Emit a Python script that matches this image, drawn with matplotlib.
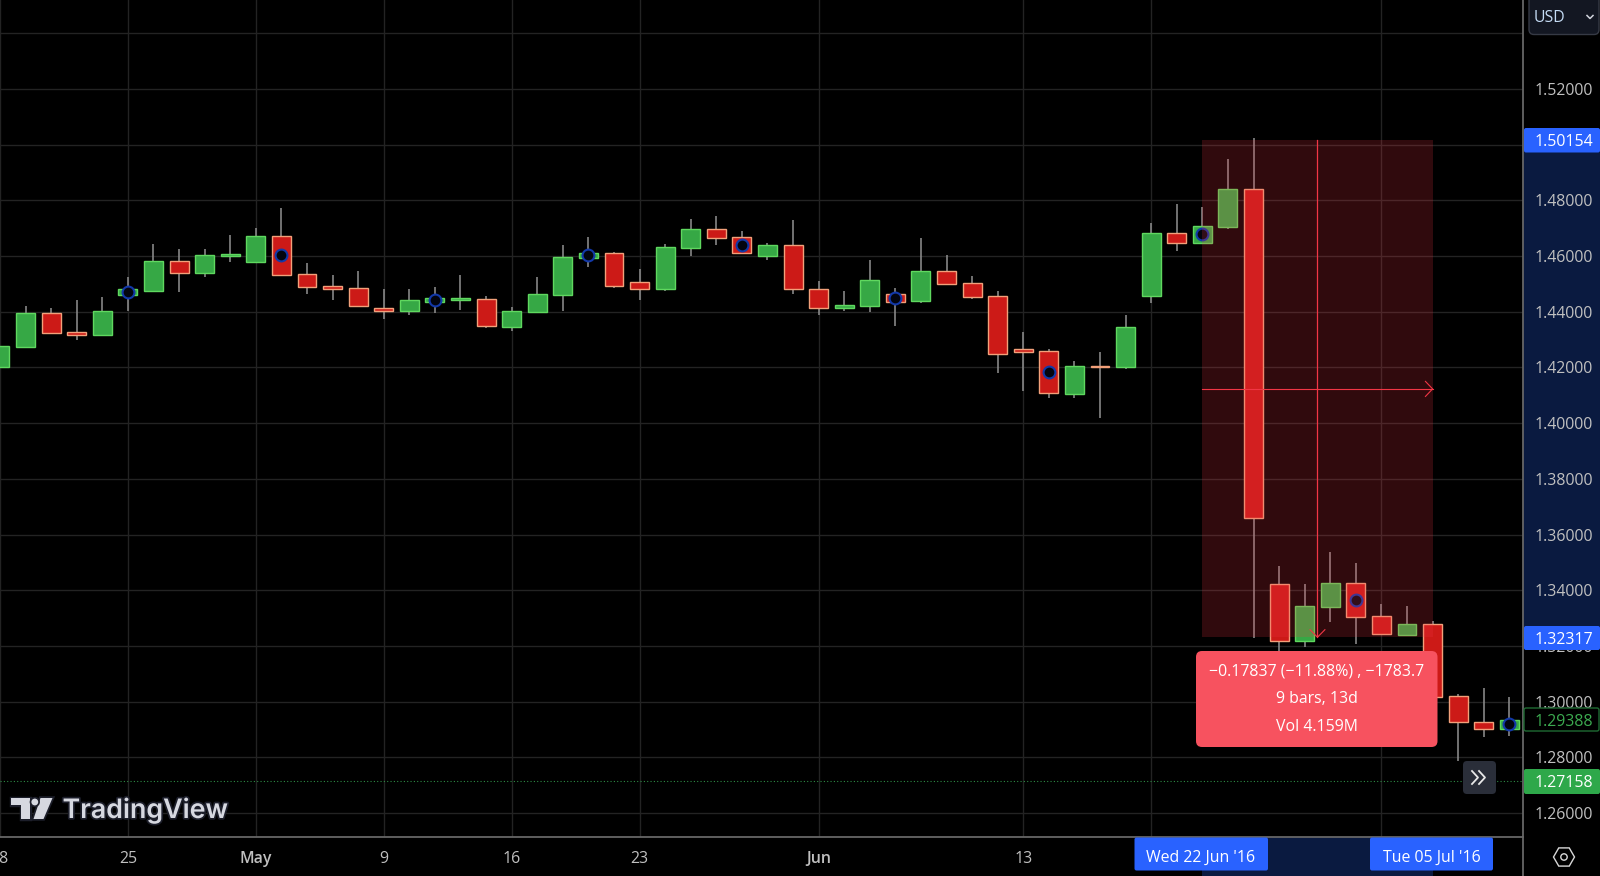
import math
import matplotlib
matplotlib.use("Agg")
import matplotlib.pyplot as plt
from matplotlib.patches import Rectangle, FancyBboxPatch, Polygon, Circle, RegularPolygon
import matplotlib.patheffects as pe

plt.rcParams['font.family'] = ['Open Sans', 'DejaVu Sans']

# candles, one per trading day. index 0 is Mon 25 Apr 2016
first_index = -5
opens = [1.4200, 1.4274, 1.4394, 1.4329, 1.4317, 1.4460, 1.4475, 1.4581, 1.4539, 1.4600,
         1.4577, 1.4673, 1.4534, 1.4492, 1.4486, 1.4414, 1.4404, 1.4436, 1.4443, 1.4447,
         1.4346, 1.4398, 1.4461, 1.4594, 1.4610, 1.4505, 1.4483, 1.4630, 1.4696, 1.4669,
         1.4600, 1.4641, 1.4483, 1.4413, 1.4422, 1.4462, 1.4437, 1.4545, 1.4502, 1.4455,
         1.4265, 1.4259, 1.4105, 1.4204, 1.4200, 1.4457, 1.4681, 1.4648, 1.4705, 1.4840,
         1.3424, 1.3218, 1.3339, 1.3428, 1.3309, 1.3241, 1.3278, 1.3019, 1.2927, 1.2904]
closes = [1.4277, 1.4394, 1.4325, 1.4317, 1.4401, 1.4480, 1.4581, 1.4539, 1.4604, 1.4607,
          1.4673, 1.4533, 1.4490, 1.4481, 1.4422, 1.4404, 1.4441, 1.4448, 1.4448, 1.4349,
          1.4401, 1.4462, 1.4598, 1.4610, 1.4493, 1.4483, 1.4634, 1.4696, 1.4666, 1.4612,
          1.4641, 1.4480, 1.4414, 1.4423, 1.4513, 1.4436, 1.4545, 1.4499, 1.4454, 1.4250,
          1.4256, 1.4107, 1.4205, 1.4200, 1.4347, 1.4681, 1.4648, 1.4709, 1.4840, 1.3658,
          1.3218, 1.3342, 1.3428, 1.3305, 1.3244, 1.3279, 1.3018, 1.2926, 1.2903, 1.2935]
highs = [1.4277, 1.4420, 1.4412, 1.4442, 1.4454, 1.4523, 1.4642, 1.4625, 1.4625, 1.4674,
         1.4701, 1.4772, 1.4575, 1.4532, 1.4546, 1.4481, 1.4481, 1.4489, 1.4532, 1.4455,
         1.4417, 1.4526, 1.4638, 1.4667, 1.4614, 1.4553, 1.4643, 1.4733, 1.4744, 1.4690,
         1.4646, 1.4729, 1.4510, 1.4474, 1.4586, 1.4484, 1.4663, 1.4602, 1.4529, 1.4473,
         1.4329, 1.4266, 1.4222, 1.4254, 1.4387, 1.4719, 1.4786, 1.4776, 1.4949, 1.5023,
         1.3487, 1.3422, 1.3537, 1.3497, 1.3350, 1.3343, 1.3290, 1.3028, 1.3048, 1.3016]
lows = [1.4200, 1.4274, 1.4325, 1.4298, 1.4314, 1.4404, 1.4475, 1.4472, 1.4525, 1.4577,
        1.4577, 1.4533, 1.4462, 1.4442, 1.4417, 1.4374, 1.4390, 1.4396, 1.4406, 1.4343,
        1.4331, 1.4398, 1.4404, 1.4560, 1.4486, 1.4442, 1.4475, 1.4600, 1.4640, 1.4607,
        1.4586, 1.4465, 1.4388, 1.4402, 1.4399, 1.4350, 1.4431, 1.4499, 1.4446, 1.4181,
        1.4116, 1.4092, 1.4091, 1.4017, 1.4195, 1.4432, 1.4617, 1.4646, 1.4696, 1.3228,
        1.3170, 1.3198, 1.3286, 1.3207, 1.3244, 1.3241, 1.3018, 1.2788, 1.2874, 1.2878]

# dividend style circle markers
marker_index = [0, 6, 12, 18, 24, 30, 36, 42, 48, 54]
marker_price = [1.4471, 1.4602, 1.4442, 1.4602, 1.4638, 1.4449, 1.4183, 1.4678, 1.3366, 1.2921]

tick_index = [-5, 0, 5, 10, 15, 20, 27, 35, 40, 49]
tick_labels = ['18', '25', 'May', '9', '16', '23', 'Jun', '13', '20', 'Jul']
price_ticks = [1.26, 1.28, 1.30, 1.32, 1.34, 1.36, 1.38, 1.40, 1.42, 1.44, 1.46, 1.48, 1.50, 1.52, 1.54]
# 1.54 sits under the currency button, only its grid line shows
price_labels = ['%.5f' % p for p in price_ticks[:-1]] + ['']

# the short measure tool
measure_start = 42
measure_end = 51
measure_top = 1.50154
measure_bottom = 1.32317
measure_mid = 1.4123
last_price = 1.29388
dotted_price = 1.27158
measure_lines = ['\u22120.17837 (\u221211.88%) , \u22121783.7', '9 bars, 13d', 'Vol 4.159M']

BG = '#000000'
GRID = '#232323'
AXIS = '#666666'
NAVY = '#0a1a40'
BLUE = '#2962ff'
GREEN_BODY = '#36a845'
GREEN_EDGE = '#5fd85f'
RED_BODY = '#cc1a17'
RED_EDGE = '#f2a07a'
WICK = '#8c8c8c'
LABEL = '#c0c0c0'
MEASURE = '#f23645'
FONT = 11.4

fig = plt.figure(figsize=(16, 8.76), dpi=100, facecolor=BG)
ax = fig.add_axes([0, 39 / 876, 1523 / 1600, 837 / 876], facecolor=BG)
ax.set_xlim(-125.3 / 25.63, (1523 - 125.3) / 25.63)
ax.set_ylim(1.25146, 1.5519)
ax.set_axisbelow(True)

ax.grid(True, color=GRID, linewidth=1.0)
ax.yaxis.tick_right()
ax.set_yticks(price_ticks)
ax.set_yticklabels(price_labels, color=LABEL, fontsize=FONT)
ax.set_xticks(tick_index)
ax.set_xticklabels(tick_labels, color=LABEL, fontsize=FONT)
for lab in ax.get_xticklabels():
    if lab.get_text() in ('May', 'Jun'):
        lab.set_fontweight('semibold')
ax.tick_params(axis='both', length=0)
ax.tick_params(axis='y', pad=8.5)
ax.tick_params(axis='x', pad=10)
for name in ('top', 'left'):
    ax.spines[name].set_visible(False)
for name in ('bottom', 'right'):
    ax.spines[name].set_color(AXIS)
    ax.spines[name].set_linewidth(1.3)

# highlighted stretches of both axes
trans_y = ax.get_yaxis_transform()
trans_x = ax.get_xaxis_transform()
ax.add_patch(Rectangle((1, measure_bottom), 0.06, measure_top - measure_bottom, transform=trans_y,
                       facecolor=NAVY, edgecolor='none', clip_on=False, zorder=0.2))
ax.add_patch(Rectangle((measure_start, -0.05), measure_end - measure_start, 0.05, transform=trans_x,
                       facecolor=NAVY, edgecolor='none', clip_on=False, zorder=0.2))

ax.axhline(dotted_price, color='#2e8b45', linewidth=0.8, linestyle=(0, (1, 2)), zorder=1.6)

for k in range(len(opens)):
    x = first_index + k
    o, c = opens[k], closes[k]
    up = c >= o
    ax.vlines(x, lows[k], highs[k], color=WICK, linewidth=1.15, zorder=2)
    ax.bar(x, abs(c - o), bottom=min(o, c), width=0.74,
           color=GREEN_BODY if up else RED_BODY,
           edgecolor=GREEN_EDGE if up else RED_EDGE,
           linewidth=1.0, zorder=3)

ax.plot(marker_index, marker_price, linestyle='none', marker='o', markersize=8.5,
        markerfacecolor='#03050f', markeredgecolor='#1238a8', markeredgewidth=1.5, zorder=4)

ax.add_patch(Rectangle((measure_start, measure_bottom), measure_end - measure_start,
                       measure_top - measure_bottom, facecolor=MEASURE, alpha=0.2,
                       edgecolor='none', zorder=5))
mid_x = (measure_start + measure_end) / 2
ax.plot([measure_start, measure_end], [measure_mid, measure_mid], color=MEASURE, linewidth=0.8, zorder=6)
ax.plot([mid_x, mid_x], [measure_top, measure_bottom], color=MEASURE, linewidth=0.9, zorder=6)
ax.plot([measure_end - 0.28, measure_end, measure_end - 0.28],
        [measure_mid + 0.0027, measure_mid, measure_mid - 0.0027], color=MEASURE, linewidth=0.8, zorder=6)
ax.plot([mid_x - 0.29, mid_x, mid_x + 0.29],
        [measure_bottom + 0.0027, measure_bottom, measure_bottom + 0.0027], color=MEASURE, linewidth=0.8, zorder=6)

# everything on top of the chart, in pixels of the picture
ui = fig.add_axes([0, 0, 1, 1])
ui.set_xlim(0, 1600)
ui.set_ylim(876, 0)
ui.axis('off')


def price_y(p):
    return 200.3 + (1.48 - p) * 2786


def box(x0, y0, x1, y1, face, edge='none', r=2, lw=1.0, z=3):
    ui.add_patch(FancyBboxPatch((x0, y0), x1 - x0, y1 - y0, boxstyle='round,pad=0,rounding_size=%g' % r,
                                facecolor=face, edgecolor=edge, linewidth=lw, zorder=z))


ui.plot([1523, 1523], [837, 876], color=AXIS, linewidth=1.3, zorder=2)

# price labels
box(1524, 128, 1600, 152.5, BLUE)
ui.text(1535, 141.5, '%.5f' % measure_top, color='white', fontsize=FONT, va='center', zorder=4)
box(1524, 626, 1600, 650, BLUE)
ui.text(1535, 639.5, '%.5f' % measure_bottom, color='white', fontsize=FONT, va='center', zorder=4)
box(1524, 708, 1599, 731, '#000000', edge='#1f6b33')
ui.text(1535, 721.5, '%.5f' % last_price, color='#3cab50', fontsize=FONT, va='center', zorder=4)
box(1524, 769, 1600, 794, '#2ea84a')
ui.text(1535, 783, '%.5f' % dotted_price, color='white', fontsize=FONT, va='center', zorder=4)

# date labels
box(1134.5, 837.5, 1268, 870.5, BLUE)
ui.text(1201, 857.5, "Wed 22 Jun '16", color='white', fontsize=FONT, ha='center', va='center', zorder=4)
box(1370, 837.5, 1493, 870.5, BLUE)
ui.text(1432, 857.5, "Tue 05 Jul '16", color='white', fontsize=FONT, ha='center', va='center', zorder=4)

# measure tooltip
box(1196, 651, 1437.5, 747, '#f7525f', r=6)
for y, line in zip([672, 699, 727], measure_lines):
    ui.text(1317, y, line, color='white', fontsize=FONT, ha='center', va='center', zorder=4)

# scroll button
box(1463, 761, 1496, 794, '#2a2e39', r=4)
ui.plot([1472, 1478, 1472], [771, 777.5, 784], color='#e8e8e8', linewidth=1.3, zorder=4)
ui.plot([1479, 1485, 1479], [771, 777.5, 784], color='#e8e8e8', linewidth=1.3, zorder=4)

# currency button
box(1529, -6, 1599, 34.5, '#131722', edge='#363a45', r=5)
ui.text(1534, 17.5, 'USD', color='#c5dcf5', fontsize=FONT, va='center', zorder=4)
ui.plot([1587, 1590, 1593], [15.5, 18.5, 15.5], color='#d1d4dc', linewidth=1.1, zorder=4)

# settings icon
ui.add_patch(RegularPolygon((1564, 857), 6, radius=10.5, orientation=math.pi / 6,
                            facecolor='none', edgecolor='#d8d8d8', linewidth=1.0, zorder=4))
ui.add_patch(Circle((1564, 857), 3.2, facecolor='none', edgecolor='#d8d8d8', linewidth=1.0, zorder=4))

# logo
LOGO = '#d6d8e0'
halo = [pe.withStroke(linewidth=2.5, foreground='#1c1e2a')]
for pts in ([(11, 798), (29.5, 798), (29.5, 819), (21, 819), (21, 805), (11, 805)],
            [(40.5, 798), (52.5, 798), (43.5, 819), (33.5, 819)]):
    ui.add_patch(Polygon(pts, closed=True, facecolor=LOGO, edgecolor='none', zorder=4, path_effects=halo))
ui.add_patch(Circle((34.8, 802), 3.4, facecolor=LOGO, edgecolor='none', zorder=4, path_effects=halo))
ui.text(62.5, 818, 'TradingView', color=LOGO, fontsize=19.3, fontfamily='Inter', fontweight='semibold',
        va='baseline', zorder=4, path_effects=halo)

fig.savefig('out.png', dpi=100, facecolor=BG)
